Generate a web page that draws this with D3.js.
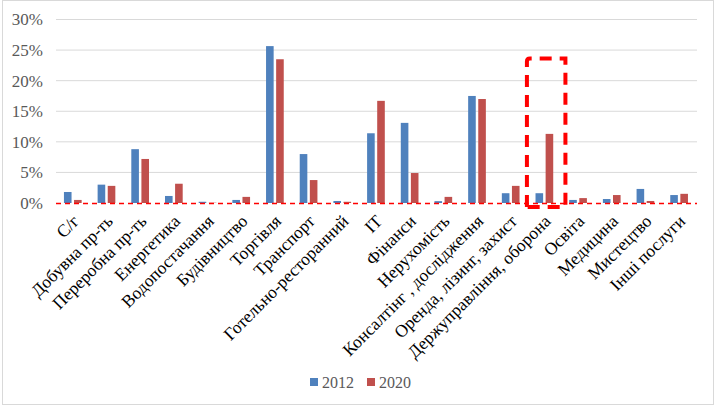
<!DOCTYPE html>
<html><head><meta charset="utf-8">
<script src="https://cdn.jsdelivr.net/npm/d3@7"></script>
<style>body{margin:0;background:#fff}svg{display:block}</style>
</head><body>
<svg id="c" width="716" height="407"></svg>
<script>
const categories = ["С/г","Добувна пр-ть","Переробна пр-ть","Енергетика","Водопостачання","Будівництво","Торгівля","Транспорт","Готельно-ресторанний","IT","Фінанси","Нерухомість","Консалтінг , дослідження","Оренда, лізинг, захист","Держуправління, оборона","Освіта","Медицина","Мистецтво","Інші послуги"];
const series2012 = [1.8,3.0,8.8,1.15,0.2,0.5,25.65,8.0,0.33,11.4,13.1,0.3,17.5,1.6,1.6,0.5,0.65,2.3,1.3];
const series2020 = [0.5,2.8,7.2,3.15,0.05,1.0,23.5,3.75,0.2,16.7,4.9,1.0,17.0,2.8,11.3,0.8,1.3,0.33,1.5];
const yTicks = [0,5,10,15,20,25,30];
const seriesNames = ["2012","2020"];
const colors = ["#4F81BD","#C0504D"];
const highlightIndex = 14;

const svg = d3.select("#c");
const font = "'Liberation Serif','Times New Roman',serif";
// chart border
svg.append("rect").attr("x",2.5).attr("y",0.5).attr("width",711).attr("height",404)
  .attr("fill","#fff").attr("stroke","#d9d9d9");

const x0 = 56, x1 = 696, yTop = 19.5, yBot = 203;
const x = d3.scaleBand().domain(categories).range([x0,x1]).padding(0);
const y = d3.scaleLinear().domain([0,30]).range([yBot,yTop]);

// gridlines
svg.append("g").selectAll("line").data(yTicks.filter(d=>d>0)).join("line")
  .attr("x1",x0).attr("x2",x1+1).attr("y1",d=>y(d)).attr("y2",d=>y(d))
  .attr("stroke","#d9d9d9").attr("stroke-width",1);

// y labels
const yAxis = d3.axisLeft(y).tickValues(yTicks).tickFormat(d=>d+"%").tickSize(0).tickPadding(0);
const ga = svg.append("g").attr("transform",`translate(43,0)`).call(yAxis);
ga.select(".domain").remove();
ga.selectAll("text").attr("font-family",font).attr("font-size",17).attr("fill","#595959");

// bars
const bw = 7.6;
const offs = [-8.9, 1.2];
[series2012, series2020].forEach((s,si)=>{
  svg.append("g").selectAll("rect").data(s).join("rect")
    .attr("x",(d,i)=>x(categories[i])+x.bandwidth()/2+offs[si])
    .attr("width",bw)
    .attr("y",d=>y(d))
    .attr("height",d=>yBot-y(d))
    .attr("fill",colors[si]);
});

// red dashed baseline
svg.append("line").attr("x1",x0).attr("x2",x1+1).attr("y1",yBot+0.5).attr("y2",yBot+0.5)
  .attr("stroke","#ff0000").attr("stroke-width",1.5).attr("stroke-dasharray","5,4");

// category labels
svg.append("g").selectAll("text").data(categories).join("text")
  .attr("transform",d=>`translate(${x(d)+x.bandwidth()/2+3},${yBot+15}) rotate(-45)`)
  .attr("text-anchor","end").attr("dy","0.35em")
  .attr("font-family",font).attr("font-size",17.5).attr("fill","#000")
  .text(d=>d);

// highlight box
const hc = x(categories[highlightIndex])+x.bandwidth()/2;
const bx = hc-17.5, bx2 = hc+21, by = 58.5, by2 = 207, r = 3;
svg.append("path")
  .attr("d",`M${bx},${by2} L${bx},${by+r} Q${bx},${by} ${bx+r},${by} L${bx2},${by} L${bx2},${by2} Z`)
  .attr("fill","none").attr("stroke","#ff0000").attr("stroke-width",4)
  .attr("stroke-dasharray","12,8");

// legend
const lg = svg.append("g");
const legX = [310, 367];
seriesNames.forEach((n,i)=>{
  lg.append("rect").attr("x",legX[i]).attr("y",378).attr("width",8).attr("height",8).attr("fill",colors[i]);
  lg.append("text").attr("x",legX[i]+12).attr("y",382).attr("dy","0.35em")
    .attr("font-family",font).attr("font-size",16).attr("fill","#595959").text(n);
});
</script>
</body></html>
